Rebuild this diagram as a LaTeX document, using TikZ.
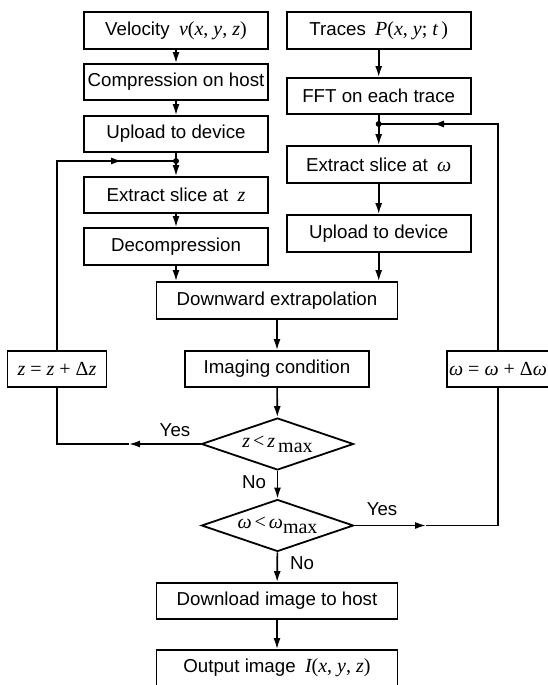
\documentclass[tikz,border=0pt]{standalone}
\usepackage{fontspec}
\setmainfont{Liberation Sans}
\newfontfamily\tmf{Liberation Serif}
\usetikzlibrary{shapes.geometric,arrows.meta}
\newcommand\mi[1]{{\tmf\fontsize{20}{22}\selectfont\itshape #1}}
\newcommand\mr[1]{{\tmf\fontsize{20}{22}\selectfont #1}}
\begin{document}
\begin{tikzpicture}[x=1pt,y=-1pt,
 box/.style={draw, line width=1.8pt, inner sep=0pt, minimum height=36pt, font=\fontsize{18.7}{21}\selectfont},
 dia/.style={draw, diamond, line width=1.8pt, inner sep=0pt, minimum width=152pt, minimum height=52pt, aspect=2.9, font=\fontsize{18}{20}\selectfont},
 ln/.style={line width=1.6pt},
 arr/.style={line width=1.6pt, -{Latex[length=11pt,width=7pt]}},
 lab/.style={font=\fontsize{18.7}{21}\selectfont, inner sep=0pt},
 jdot/.style={circle, fill, inner sep=0pt, minimum size=6pt}]
\useasboundingbox (0,0) rectangle (548,685);
\fill[white] (0,0) rectangle (548,685);

% left column
\node[box, minimum width=184pt, minimum height=37pt] (vel) at (176,30.5) {Velocity\enspace\mi{v}\mr{(}\mi{x}\mr{, }\mi{y}\mr{, }\mi{z}\mr{)}};
\node[box, minimum width=184pt] (comp) at (176,82) {Compression on host};
\node[box, minimum width=184pt] (upl) at (176,134) {Upload to device};
\node[box, minimum width=184pt] (exz) at (176,195) {Extract slice at\enspace\mi{z}};
\node[box, minimum width=184pt, minimum height=37pt] (dec) at (176,246.5) {Decompression};

% right column
\node[box, minimum width=184pt, minimum height=37pt] (tr) at (378.7,30.5) {Traces\enspace\mi{P}\mr{(}\mi{x}\mr{, }\mi{y}\mr{; }\mi{t}\mr{\,)}};
\node[box, minimum width=184pt] (fft) at (378.7,96) {FFT on each trace};
\node[box, minimum width=184pt, minimum height=37pt] (exw) at (378.7,164.5) {Extract slice at\enspace\mi{ω}};
\node[box, minimum width=184pt, minimum height=37pt] (uplr) at (378.7,233.5) {Upload to device};

% middle
\node[box, minimum width=241pt, minimum height=37pt] (down) at (277,300.5) {Downward extrapolation};
\node[box, minimum width=184pt] (img) at (277,369) {Imaging condition};
\node[dia] (d1) at (277.5,444) {\mi{z}\,\mr{<}\,\mi{z}\,\raisebox{-5pt}{\mr{max}}};
\node[dia] (d2) at (277.5,525.5) {\mi{ω}\,\mr{<}\,\mi{ω}\raisebox{-5pt}{\mr{max}}};
\node[box, minimum width=241pt] (dl) at (277,601) {Download image to host};
\node[box, minimum width=241pt] (out) at (277,668) {Output image\enspace\mi{I}\mr{(}\mi{x}\mr{, }\mi{y}\mr{, }\mi{z}\mr{)}};

% side boxes
\node[box, minimum width=99pt] (zb) at (57,369) {\mi{z}\mr{ = }\mi{z}\mr{ + Δ}\mi{z}};
\node[box, minimum width=102pt] (wb) at (498,369) {\mi{ω}\mr{ = }\mi{ω}\mr{ + Δ}\mi{ω}};

% junctions
\node[jdot] (jL) at (176,161) {};
\node[jdot] (jR) at (378.7,124) {};

% coordinates for loops
\coordinate (cYL) at (57,444);
\coordinate (aYL) at (129,444);
\coordinate (cTL) at (57,161);
\coordinate (aTL) at (122,161);
\coordinate (cYR) at (498,525.5);
\coordinate (aYR) at (426,525.5);
\coordinate (cTR) at (498,124);
\coordinate (aTR) at (433,124);

% main flow
\draw[arr] (vel) -- (comp);
\draw[arr] (comp) -- (upl);
\draw[ln] (upl.south) -- (jL.center);
\draw[arr] (jL.center) -- (exz.north);
\draw[arr] (exz) -- (dec);
\draw[arr] (dec.south) -- (dec.south |- down.north);
\draw[arr] (tr) -- (fft);
\draw[ln] (fft.south) -- (jR.center);
\draw[arr] (jR.center) -- (exw.north);
\draw[arr] (exw) -- (uplr);
\draw[arr] (uplr.south) -- (uplr.south |- down.north);
\draw[arr] (down) -- (img);
\draw[arr] (img) -- (d1);
\draw[arr] (d1) -- (d2);
\draw[arr] (d2) -- (dl);
\draw[arr] (dl) -- (out);

% z loop
\draw[arr] (d1.west) -- (aYL);
\draw[ln] (aYL) -- (cYL) -- (zb.south);
\draw[ln] (zb.north) -- (cTL) -- (aTL);
\draw[arr] (cTL) -- (aTL);
\draw[ln] (aTL) -- (jL.center);

% omega loop
\draw[arr] (d2.east) -- (aYR);
\draw[ln] (aYR) -- (cYR) -- (wb.south);
\draw[ln] (wb.north) -- (cTR) -- (aTR);
\draw[arr] (cTR) -- (aTR);
\draw[ln] (aTR) -- (jR.center);

% labels
\node[lab] (lyes1) at (175,430) {Yes};
\node[lab] (lno1) at (254,482) {No};
\node[lab] (lyes2) at (382,509) {Yes};
\node[lab] (lno2) at (302,563) {No};
\end{tikzpicture}
\end{document}
